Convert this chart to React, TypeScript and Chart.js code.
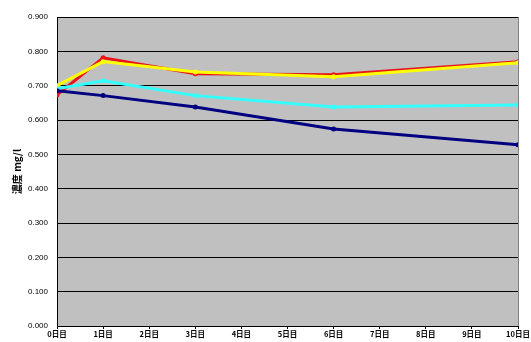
import React, { useEffect, useRef } from "react";
import { Chart, registerables } from "chart.js";

Chart.register(...registerables);

const days = [0, 1, 3, 6, 10];
const xTickLabels = ["0日目", "1日目", "2日目", "3日目", "4日目", "5日目", "6日目", "7日目", "8日目", "9日目", "10日目"];
const redSeries = [0.673, 0.781, 0.735, 0.732, 0.770];
const yellowSeries = [0.700, 0.770, 0.740, 0.726, 0.767];
const cyanSeries = [0.691, 0.714, 0.671, 0.638, 0.644];
const navySeries = [0.685, 0.671, 0.638, 0.574, 0.528];
const yTitle = "濃度 mg/l";

const toPoints = (vals: number[]) => vals.map((v, i) => ({ x: days[i], y: v }));

const bgPlugin = {
  id: "bgPlugin",
  beforeDraw(chart: any) {
    const { ctx, chartArea } = chart;
    if (!chartArea) return;
    ctx.save();
    ctx.fillStyle = "#c0c0c0";
    ctx.fillRect(chartArea.left, chartArea.top, chartArea.right - chartArea.left, chartArea.bottom - chartArea.top);
    ctx.strokeStyle = "#808080";
    ctx.lineWidth = 1;
    ctx.beginPath();
    ctx.moveTo(chartArea.right + 0.5, chartArea.top);
    ctx.lineTo(chartArea.right + 0.5, chartArea.bottom);
    ctx.stroke();
    ctx.restore();
  },
};

export default function App() {
  const ref = useRef<HTMLCanvasElement>(null);
  useEffect(() => {
    document.body.style.margin = "0";
    const mk = (label: string, data: number[], color: string, width: number, order: number) => ({
      label,
      data: toPoints(data),
      borderColor: color,
      backgroundColor: color,
      borderWidth: width,
      pointRadius: 2.5,
      pointBorderWidth: 0,
      pointBackgroundColor: color,
      order,
      tension: 0,
    });
    const chart = new Chart(ref.current!, {
      type: "line",
      data: {
        datasets: [
          mk("A", redSeries, "#e8141c", 3, 4),
          mk("B", yellowSeries, "#ffff00", 3, 3),
          mk("C", cyanSeries, "#33ffff", 3, 2),
          mk("D", navySeries, "#000080", 3, 1),
        ],
      },
      options: {
        animation: false,
        responsive: false,
        layout: { padding: { top: 17, right: 13, left: 0, bottom: 0 } },
        plugins: { legend: { display: false }, tooltip: { enabled: false } },
        scales: {
          x: {
            type: "linear",
            min: 0,
            max: 10,
            afterFit(scale: any) {
              scale.height = 16;
            },
            ticks: {
              stepSize: 1,
              autoSkip: false,
              maxRotation: 0,
              padding: 1,
              color: "#000",
              font: { family: "'Noto Sans CJK JP'", size: 7.5, weight: "bold" },
              callback: (v: any) => xTickLabels[v],
            },
            grid: { drawOnChartArea: false, drawTicks: true, tickLength: 3, color: "#000" },
            border: { color: "#000", width: 1 },
          },
          y: {
            min: 0,
            max: 0.9,
            afterFit(scale: any) {
              scale.width = 57;
            },
            ticks: {
              stepSize: 0.1,
              padding: 9,
              color: "#000",
              font: { family: "'Liberation Sans'", size: 8 },
              callback: (v: any) => Number(v).toFixed(3),
            },
            grid: { color: "#000", lineWidth: 1, drawTicks: false },
            border: { color: "#000", width: 1 },
            title: {
              display: true,
              text: yTitle,
              color: "#000",
              padding: { top: 11, bottom: 0 },
              font: { family: "'Noto Sans CJK JP'", size: 10, weight: "bold" },
            },
          },
        },
      },
      plugins: [bgPlugin],
    } as any);
    return () => chart.destroy();
  }, []);
  return <canvas ref={ref} width={531} height={342} style={{ display: "block" }} />;
}
